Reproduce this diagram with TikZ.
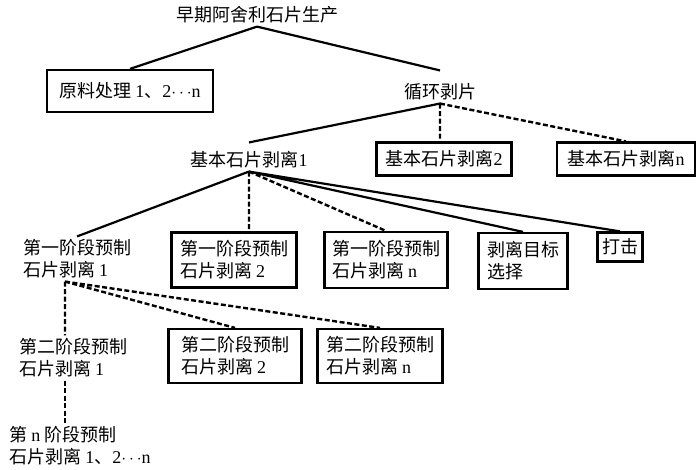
\documentclass[tikz,border=0pt]{standalone}
\usepackage{fontspec}
\setmainfont{Noto Sans CJK SC}
\newfontfamily\latinfont{Liberation Serif}
\newcommand{\lat}[1]{{\latinfont #1}}
\usetikzlibrary{calc}
\tikzset{
    box/.style={draw, line width=2.2pt, align=left, inner sep=0pt},
    plain/.style={align=left, inner sep=3pt},
    solidlink/.style={line width=2.2pt},
    dashlink/.style={line width=2.4pt, dash pattern=on 5pt off 2.5pt},
  }
\begin{document}
\begin{tikzpicture}[x=1pt, y=-1pt, font=\fontsize{18}{22}\selectfont]
				  \useasboundingbox (0,0) rectangle (700,470);
				  %niveau 0 et 1
				  \node[plain] (root) at (257,15) {早期阿舍利石片生产};
				  \node[box, minimum width=166pt, minimum height=42pt] (yuanliao) at (130,91) {原料处理 \lat{1}、\lat{2}$\cdots$\lat{n}};
				  \node[plain] (xunhuan) at (440,92) {循环剥片};
				  %niveau 2
				  \node[plain] (jiben1) at (249,160) {基本石片剥离\lat{1}};
				  \node[box, minimum width=135pt, minimum height=33pt] (jiben2) at (444,159) {基本石片剥离\lat{2}};
				  \node[box, minimum width=138pt, minimum height=33pt] (jibenn) at (626,159) {基本石片剥离\lat{n}};
				  %niveau 3
				  \node[plain] (di1) at (77,259) {第一阶段预制\\石片剥离 \lat{1}};
				  \node[box, minimum width=125pt, minimum height=55pt] (di2) at (234,260) {第一阶段预制\\石片剥离 \lat{2}};
				  \node[box, minimum width=123pt, minimum height=56pt] (din) at (386,260) {第一阶段预制\\石片剥离 \lat{n}};
				  \node[box, minimum width=89pt, minimum height=56pt] (mubiao) at (523,261) {剥离目标\\选择};
				  \node[box, minimum width=45pt, minimum height=29pt] (daji) at (620,247) {打击};
				  %niveau 4 et 5
				  \node[plain] (er1) at (73,358) {第二阶段预制\\石片剥离 \lat{1}};
				  \node[box, minimum width=133pt, minimum height=54pt] (er2) at (235,356) {第二阶段预制\\石片剥离 \lat{2}};
				  \node[box, minimum width=125pt, minimum height=54pt] (ern) at (380,356) {第二阶段预制\\石片剥离 \lat{n}};
				  \node[plain] (nth) at (80,446) {第 \lat{n} 阶段预制\\石片剥离 \lat{1}、\lat{2}$\cdots$\lat{n}};
				  \coordinate (d1) at ([xshift=-12pt]di1.south);
				  
				  \draw[solidlink] (root.south) -- (yuanliao.north) (root.south) -- ([yshift=10pt]xunhuan.north);
				  \draw[solidlink] (xunhuan.south) -- ([yshift=6pt]jiben1.north);
				  \draw[dashlink] (xunhuan.south) -- (xunhuan.south |- jiben2.north) (xunhuan.south) -- (jibenn.north);
				  
				  \draw[solidlink] (jiben1.south) -- (di1.north) (jiben1.south) -- (mubiao.north) (jiben1.south) -- (daji.north);
				  \draw[dashlink] (jiben1.south) -- (jiben1.south |- di2.north) (jiben1.south) -- (din.north);
				  
				  \draw[dashlink] (d1) -- (d1 |- er1.north) (d1) -- (er2.north) (d1) -- (ern.north);
				  \draw[dashlink] (d1 |- er1.south) -- (d1 |- nth.north);
				  \end{tikzpicture}
\end{document}
